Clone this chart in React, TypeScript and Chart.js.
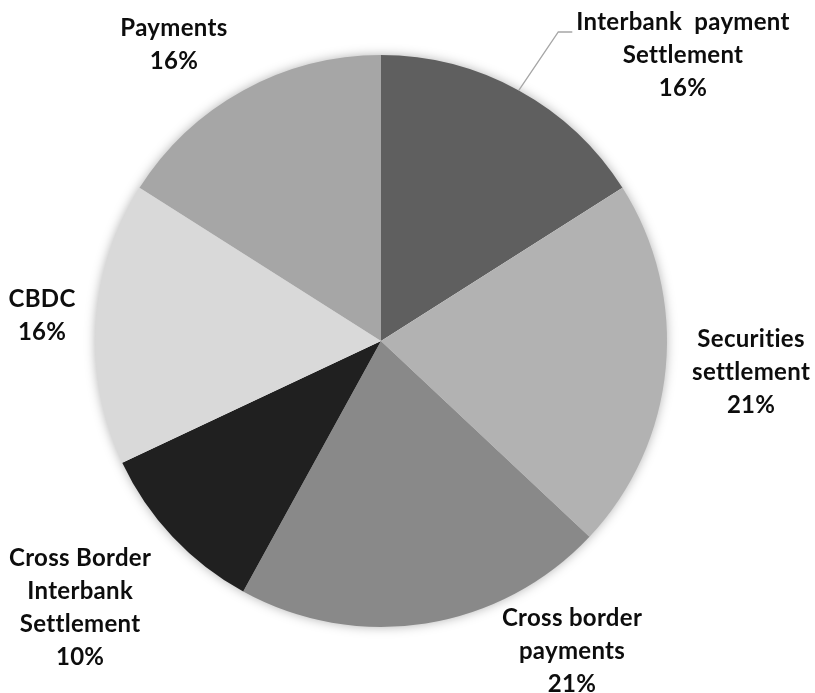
import React, { useEffect, useRef } from "react";
import { Chart, registerables } from "chart.js";

Chart.register(...registerables);

const categories = [
  "Interbank payment Settlement",
  "Securities settlement",
  "Cross border payments",
  "Cross Border Interbank Settlement",
  "CBDC",
  "Payments",
];
const shares = [16, 21, 21, 10, 16, 16];
const labelLines = [
  ["Interbank  payment", "Settlement"],
  ["Securities", "settlement"],
  ["Cross border", "payments"],
  ["Cross Border", "Interbank", "Settlement"],
  ["CBDC"],
  ["Payments"],
];
const sliceColors = ["#5f5f5f", "#b2b2b2", "#898989", "#202020", "#d9d9d9", "#a6a6a6"];

// label block centres, relative to pie centre, in units of radius
const LABEL_POS = [
  [1.056, -1.0],
  [1.294, 0.108],
  [0.668, 1.084],
  [-1.052, 0.934],
  [-1.185, -0.087],
  [-0.724, -1.035],
];
const LEADER = [true, false, false, false, false, false];

const FONT = "bold 24px Lato";
const LINE_H = 33;

const shadowPlugin = {
  id: "pieShadow",
  beforeDatasetsDraw(chart: any) {
    const meta = chart.getDatasetMeta(0);
    const arc = meta.data[0];
    if (!arc) return;
    const { x, y, outerRadius } = arc.getProps(["x", "y", "outerRadius"], true);
    const ctx = chart.ctx;
    ctx.save();
    ctx.shadowColor = "rgba(0,0,0,0.35)";
    ctx.shadowBlur = 12;
    ctx.fillStyle = "#ffffff";
    ctx.beginPath();
    ctx.arc(x, y, outerRadius - 1, 0, Math.PI * 2);
    ctx.fill();
    ctx.restore();
  },
};

const labelPlugin = {
  id: "pieLabels",
  afterDatasetsDraw(chart: any) {
    const meta = chart.getDatasetMeta(0);
    const ctx = chart.ctx;
    ctx.save();
    ctx.font = FONT;
    try {
      (ctx as any).letterSpacing = "0.3px";
    } catch (e) {}
    ctx.textAlign = "center";
    ctx.textBaseline = "middle";
    meta.data.forEach((arc: any, i: number) => {
      const { x, y, outerRadius, startAngle, endAngle } = arc.getProps(
        ["x", "y", "outerRadius", "startAngle", "endAngle"],
        true
      );
      const lines = [...labelLines[i], shares[i] + "%"];
      const cx = x + LABEL_POS[i][0] * outerRadius;
      const cy = y + LABEL_POS[i][1] * outerRadius;
      const top = cy - ((lines.length - 1) * LINE_H) / 2;
      if (LEADER[i]) {
        const mid = (startAngle + endAngle) / 2;
        const sx = x + Math.cos(mid) * outerRadius;
        const sy = y + Math.sin(mid) * outerRadius;
        const w = ctx.measureText(lines[0]).width;
        const lx = cx - w / 2 - 4;
        const ly = top + 10;
        ctx.strokeStyle = "#a6a6a6";
        ctx.lineWidth = 1.3;
        ctx.beginPath();
        ctx.moveTo(sx, sy);
        ctx.lineTo(lx - 14, ly);
        ctx.lineTo(lx, ly);
        ctx.stroke();
      }
      ctx.fillStyle = "#0d0d0d";
      lines.forEach((t, k) => ctx.fillText(t, cx, top + k * LINE_H));
    });
    ctx.restore();
  },
};

export default function App() {
  const ref = useRef<HTMLCanvasElement>(null);
  useEffect(() => {
    if (!ref.current) return;
    const chart = new Chart(ref.current, {
      type: "pie",
      data: {
        labels: categories,
        datasets: [
          {
            data: shares,
            backgroundColor: sliceColors,
            borderWidth: 0,
          },
        ],
      },
      options: {
        animation: false,
        responsive: false,
        maintainAspectRatio: false,
        layout: { padding: { left: 95, right: 148, top: 55, bottom: 66 } },
        plugins: {
          legend: { display: false },
          tooltip: { enabled: false },
        },
      },
      plugins: [shadowPlugin, labelPlugin],
    });
    return () => chart.destroy();
  }, []);
  return (
    <div style={{ position: "fixed", left: 0, top: 0, width: 815, height: 693, background: "#fff" }}>
      <canvas ref={ref} width={815} height={693} style={{ width: 815, height: 693 }} />
    </div>
  );
}
